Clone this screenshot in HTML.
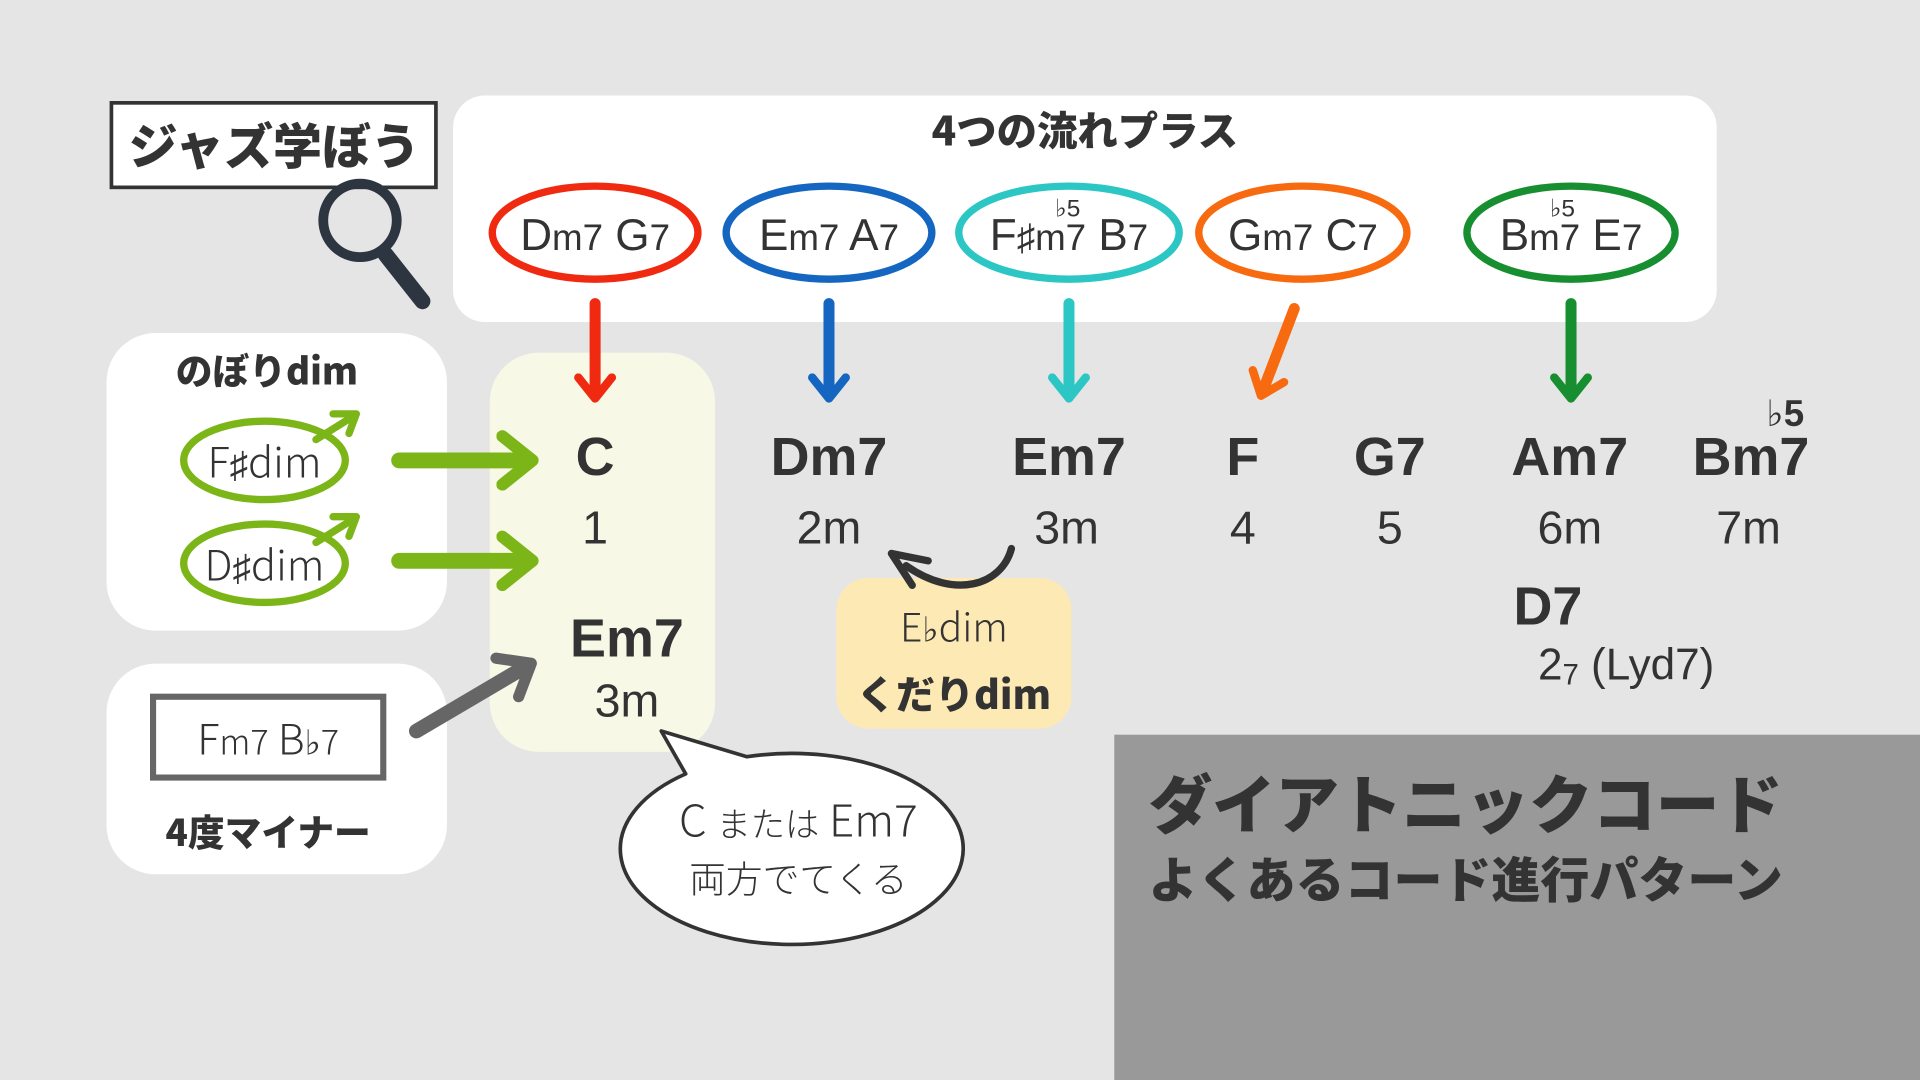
<!DOCTYPE html>
<html><head><meta charset="utf-8"><style>
html,body{margin:0;padding:0;background:#e5e5e5;}
svg{display:block}
text{font-family:"Liberation Sans","Noto Sans CJK JP",sans-serif;fill:#333;}
.j{font-family:"Noto Sans CJK JP","Liberation Sans",sans-serif;}
.s{font-family:"DejaVu Sans",sans-serif;font-weight:300}
.b{font-weight:900}
</style></head><body>
<svg width="1920" height="1080" viewBox="0 0 1568 882" xmlns="http://www.w3.org/2000/svg">
<defs>
<marker id="h" viewBox="0 0 10 10" refX="5" refY="5" markerWidth="3.8" markerHeight="3.8" orient="auto"><path d="M1,1 L6,5 L1,9" fill="none" stroke="context-stroke" stroke-width="2" stroke-linecap="round" stroke-linejoin="round"/></marker>
</defs>
<rect width="1568" height="882" fill="#e5e5e5"/>
<rect x="91" y="84" width="265" height="69" fill="#fff" stroke="#333" stroke-width="3"/>
<text x="224" y="134" text-anchor="middle" class="j b" font-size="40">ジャズ学ぼう</text>
<circle cx="294" cy="180" r="30" fill="none" stroke="#2d3640" stroke-width="8"/>
<line x1="315" y1="208" x2="345" y2="246" stroke="#2d3640" stroke-width="13" stroke-linecap="round"/>
<rect x="370" y="78" width="1032" height="185" rx="26" fill="#fff"/>
<text x="886" y="119" text-anchor="middle" class="j b" font-size="33">4つの流れプラス</text>
<g fill="none" stroke-width="6">
<ellipse cx="486" cy="190" rx="84" ry="38" stroke="#f02a10"/>
<ellipse cx="677" cy="190" rx="84" ry="38" stroke="#1466c0"/>
<ellipse cx="873" cy="190" rx="90" ry="38" stroke="#2cc7c4"/>
<ellipse cx="1064" cy="190" rx="85" ry="38" stroke="#f86a10"/>
<ellipse cx="1283" cy="190" rx="85" ry="38" stroke="#178f30"/>
</g>
<g font-size="36" class="j" font-weight="300" text-anchor="middle">
<text x="486" y="204">D<tspan font-size="30">m7</tspan> G<tspan font-size="30">7</tspan></text>
<text x="677" y="204">E<tspan font-size="30">m7</tspan> A<tspan font-size="30">7</tspan></text>
<text x="873" y="204">F<tspan class="s" font-size="30">♯</tspan><tspan font-size="30">m7</tspan> B<tspan font-size="30">7</tspan></text>
<text x="1064" y="204">G<tspan font-size="30">m7</tspan> C<tspan font-size="30">7</tspan></text>
<text x="1283" y="204">B<tspan font-size="30">m7</tspan> E<tspan font-size="30">7</tspan></text>
<text x="872" y="177" font-size="20"><tspan class="s">♭</tspan>5</text>
<text x="1276" y="177" font-size="20"><tspan class="s">♭</tspan>5</text>
</g>
<rect x="400" y="288" width="184" height="326" rx="40" fill="#f7f8e6"/>
<g stroke-width="9" stroke-linecap="round" fill="none" marker-end="url(#h)">
<line x1="486" y1="248" x2="486" y2="322" stroke="#f02a10"/>
<line x1="677" y1="248" x2="677" y2="322" stroke="#1466c0"/>
<line x1="873" y1="248" x2="873" y2="322" stroke="#2cc7c4"/>
<line x1="1057" y1="252" x2="1031" y2="320" stroke="#f86a10"/>
<line x1="1283" y1="248" x2="1283" y2="322" stroke="#178f30"/>
</g>
<g class="b" font-size="44" text-anchor="middle">
<text x="486" y="388">C</text>
<text x="677" y="388">Dm7</text>
<text x="873" y="388">Em7</text>
<text x="1015" y="388">F</text>
<text x="1135" y="388">G7</text>
<text x="1282" y="388">Am7</text>
<text x="1430" y="388">Bm7</text>
<text x="1458" y="348" font-size="30"><tspan class="s" font-weight="700">♭</tspan>5</text>
</g>
<g font-size="38" text-anchor="middle">
<text x="486" y="444">1</text>
<text x="677" y="444">2m</text>
<text x="871" y="444">3m</text>
<text x="1015" y="444">4</text>
<text x="1135" y="444">5</text>
<text x="1282" y="444">6m</text>
<text x="1428" y="444">7m</text>
</g>
<rect x="87" y="272" width="278" height="243" rx="40" fill="#fff"/>
<text x="218" y="314" text-anchor="middle" class="j b" font-size="30">のぼりdim</text>
<g fill="none" stroke="#7cb518" stroke-width="6" stroke-linecap="round" stroke-linejoin="round">
<ellipse cx="216" cy="376" rx="66" ry="32"/>
<ellipse cx="216" cy="460" rx="66" ry="32"/>
<line x1="258" y1="359" x2="290" y2="339"/><path d="M272,338 L291,338 L285,354"/>
<line x1="258" y1="443" x2="290" y2="423"/><path d="M272,422 L291,422 L285,438"/>
</g>
<text x="216" y="390" text-anchor="middle" font-size="34" class="j" font-weight="300">F<tspan class="s" font-size="30">♯</tspan>dim</text>
<text x="216" y="474" text-anchor="middle" font-size="34" class="j" font-weight="300">D<tspan class="s" font-size="30">♯</tspan>dim</text>
<g stroke="#7cb518" stroke-width="13" stroke-linecap="round" fill="none" marker-end="url(#h)">
<line x1="326" y1="376" x2="430" y2="376"/>
<line x1="326" y1="458" x2="430" y2="458"/>
</g>
<text x="512" y="536" text-anchor="middle" class="b" font-size="44">Em7</text>
<text x="512" y="585" text-anchor="middle" font-size="38">3m</text>
<rect x="87" y="542" width="278" height="172" rx="40" fill="#fff"/>
<rect x="125" y="569" width="188" height="66" fill="#fff" stroke="#666" stroke-width="5"/>
<text x="219" y="616" text-anchor="middle" font-size="34" class="j" font-weight="300">F<tspan font-size="28">m7</tspan> B<tspan class="s" font-size="28">♭</tspan><tspan font-size="28">7</tspan></text>
<text x="219" y="691" text-anchor="middle" class="j b" font-size="30">4度マイナー</text>
<line x1="340" y1="597" x2="430" y2="544" stroke="#666" stroke-width="12" stroke-linecap="round" marker-end="url(#h)"/>
<rect x="683" y="472" width="192" height="123" rx="26" fill="#fde9b3"/>
<text x="779" y="524" text-anchor="middle" font-size="32" class="j" font-weight="300">E<tspan class="s" font-size="28">♭</tspan>dim</text>
<text x="779" y="579" text-anchor="middle" class="j b" font-size="32">くだりdim</text>
<path d="M826,448 C818,478 780,490 740,462" fill="none" stroke="#333" stroke-width="6" stroke-linecap="round"/>
<path d="M745,478 L728,452 L758,458" fill="none" stroke="#333" stroke-width="6" stroke-linecap="round" stroke-linejoin="round"/>
<text x="1236" y="510" class="b" font-size="44">D7</text>
<text x="1256" y="555" font-size="36">2<tspan font-size="24" dy="4">7</tspan><tspan dy="-4"> (Lyd7)</tspan></text>
<path d="M560,632 A140,78 0 1 0 610,618 L540,597 Z" fill="#fff" stroke="#333" stroke-width="3" stroke-linejoin="round"/>
<text x="652" y="683" text-anchor="middle" font-size="36" class="j" font-weight="300">C <tspan font-size="28">または</tspan> Em7</text>
<text x="652" y="729" text-anchor="middle" font-size="30" class="j" font-weight="300">両方でてくる</text>
<rect x="910" y="600" width="658" height="282" fill="#999"/>
<text x="938" y="676" class="j b" font-size="52" textLength="518">ダイアトニックコード</text>
<text x="938" y="733" class="j b" font-size="40" textLength="518">よくあるコード進行パターン</text>
</svg>
</body></html>
